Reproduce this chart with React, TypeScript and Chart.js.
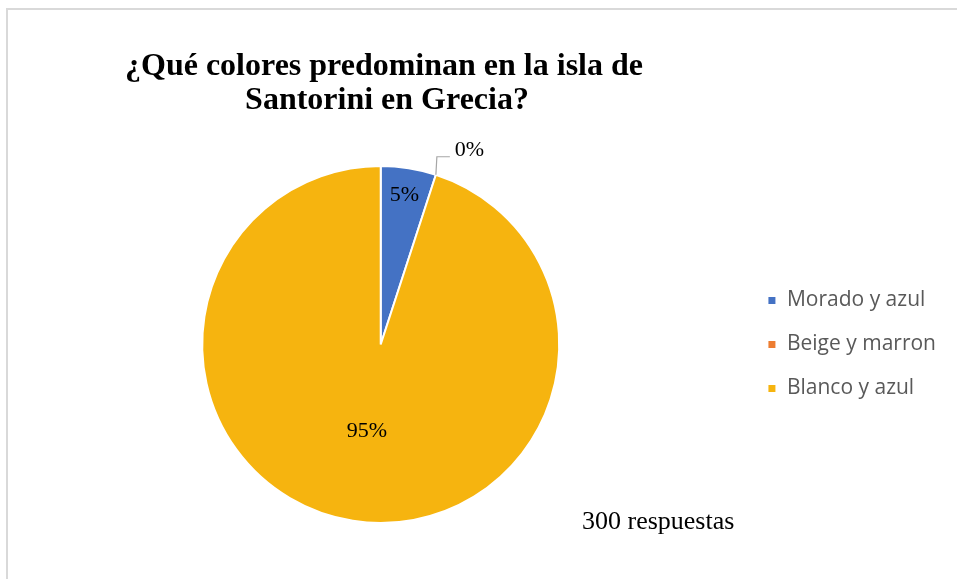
import React, { useEffect, useRef } from "react";
import { Chart, registerables } from "chart.js";

Chart.register(...registerables);

const categories = ["Morado y azul", "Beige y marron", "Blanco y azul"];
const values = [15, 0, 285];
const colors = ["#4472C4", "#ED7D31", "#F6B40F"];
const titleLines = ["¿Qué colores predominan en la isla de", "Santorini en Grecia?"];
const footnote = "300 respuestas";

const SERIF = "'Liberation Serif', 'Times New Roman', serif";
const SANS = "'Open Sans', 'Noto Sans', sans-serif";

const textPlugin = {
  id: "textPlugin",
  afterDraw(chart: any) {
    const ctx = chart.ctx;
    ctx.save();
    ctx.fillStyle = "#000000";
    ctx.textAlign = "center";
    ctx.textBaseline = "alphabetic";
    ctx.font = `bold 32px ${SERIF}`;
    ctx.fillText(titleLines[0], 384, 75);
    ctx.fillText(titleLines[1], 387, 109);
    ctx.textAlign = "left";
    ctx.font = `26px ${SERIF}`;
    ctx.fillText(footnote, 582, 529);
    ctx.restore();
  },
};

const labelFractions = [0.845, 0.5, 0.49];

const pieLabelPlugin = {
  id: "pieLabelPlugin",
  afterDatasetsDraw(chart: any) {
    const ctx = chart.ctx;
    const meta = chart.getDatasetMeta(0);
    const data = chart.data.datasets[0].data as number[];
    const total = data.reduce((a, b) => a + b, 0);
    ctx.save();
    ctx.font = `22px ${SERIF}`;
    ctx.fillStyle = "#000000";
    meta.data.forEach((arc: any, i: number) => {
      const p = arc.getProps(["x", "y", "startAngle", "endAngle", "outerRadius"], true);
      const pct = Math.round((data[i] / total) * 100) + "%";
      const mid = (p.startAngle + p.endAngle) / 2;
      if (data[i] === 0) {
        const ex = p.x + Math.cos(mid) * p.outerRadius;
        const ey = p.y + Math.sin(mid) * p.outerRadius;
        ctx.strokeStyle = "#A6A6A6";
        ctx.lineWidth = 1.2;
        ctx.beginPath();
        ctx.moveTo(ex, ey);
        ctx.lineTo(ex + 1, ey - 18);
        ctx.lineTo(ex + 14, ey - 18);
        ctx.stroke();
        ctx.textAlign = "left";
        ctx.textBaseline = "middle";
        ctx.fillText(pct, ex + 19, ey - 25);
      } else {
        const f = labelFractions[i];
        const lx = p.x + Math.cos(mid) * p.outerRadius * f;
        const ly = p.y + Math.sin(mid) * p.outerRadius * f;
        ctx.textAlign = "center";
        ctx.textBaseline = "middle";
        ctx.fillText(pct, lx, ly);
      }
    });
    ctx.restore();
  },
};

export default function App() {
  const ref = useRef<HTMLCanvasElement | null>(null);

  useEffect(() => {
    if (!ref.current) return;
    const chart = new Chart(ref.current, {
      type: "pie",
      data: {
        labels: categories,
        datasets: [
          {
            data: values,
            backgroundColor: colors,
            borderColor: "#FFFFFF",
            borderWidth: 2,
            hoverOffset: 0,
          },
        ],
      },
      options: {
        responsive: false,
        animation: false,
        devicePixelRatio: 1,
        layout: { padding: { left: 17, right: 11, top: 165, bottom: 55 } },
        plugins: {
          title: { display: false },
          tooltip: { enabled: false },
          legend: {
            display: true,
            position: "right",
            align: "center",
            labels: {
              boxWidth: 9,
              boxHeight: 9,
              padding: 23,
              color: "#595959",
              font: { family: SANS, size: 21 },
            },
          },
        },
      },
      plugins: [pieLabelPlugin, textPlugin],
    });
    return () => chart.destroy();
  }, []);

  return (
    <div>
      <div
        style={{
          position: "fixed",
          left: 6,
          top: 8,
          width: 960,
          height: 580,
          borderLeft: "2px solid #D9D9D9",
          borderTop: "2px solid #D9D9D9",
          boxSizing: "border-box",
        }}
      />
      <canvas
        ref={ref}
        width={957}
        height={579}
        style={{ position: "fixed", left: 0, top: 0, width: 957, height: 579 }}
      />
    </div>
  );
}
